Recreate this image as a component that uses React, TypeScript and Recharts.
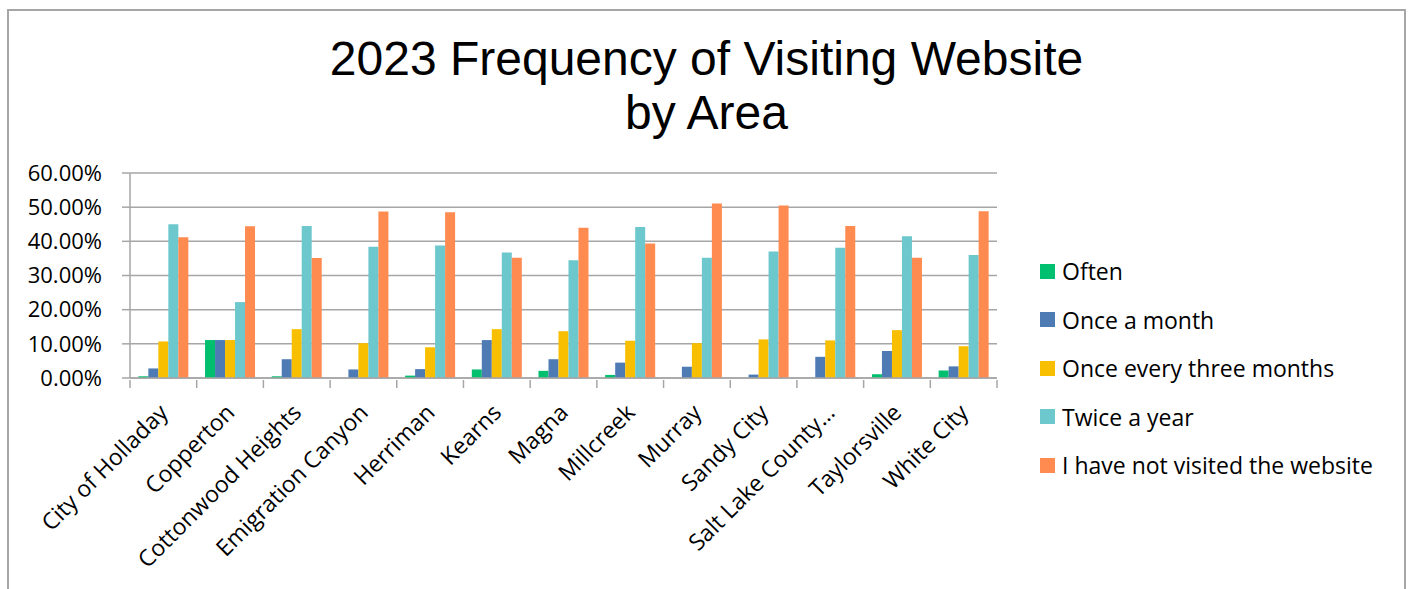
import React from 'react';
import { BarChart, Bar, XAxis, YAxis, CartesianGrid, Legend } from 'recharts';

// Areas along the x axis
const categories = [
  'City of Holladay',
  'Copperton',
  'Cottonwood Heights',
  'Emigration Canyon',
  'Herriman',
  'Kearns',
  'Magna',
  'Millcreek',
  'Murray',
  'Sandy City',
  'Salt Lake County…',
  'Taylorsville',
  'White City',
];

// Percent of respondents per area
const often = [0.5, 11.11, 0.5, 0, 0.7, 2.5, 2.1, 0.9, 0, 0, 0, 1.1, 2.2];
const onceAMonth = [2.8, 11.11, 5.5, 2.5, 2.6, 11.1, 5.5, 4.5, 3.3, 1.0, 6.2, 7.9, 3.4];
const onceEveryThreeMonths = [10.7, 11.11, 14.3, 10.2, 9.0, 14.3, 13.7, 10.9, 10.2, 11.3, 11.0, 14.0, 9.3];
const twiceAYear = [45.0, 22.22, 44.5, 38.4, 38.8, 36.7, 34.5, 44.2, 35.2, 37.0, 38.1, 41.5, 36.0];
const notVisited = [41.2, 44.44, 35.1, 48.7, 48.5, 35.2, 44.0, 39.4, 51.1, 50.5, 44.5, 35.2, 48.8];

const yTicks = [0, 10, 20, 30, 40, 50, 60];

const series = [
  { key: 'often', name: 'Often', color: '#00bf6f' },
  { key: 'month', name: 'Once a month', color: '#4f7bb5' },
  { key: 'three', name: 'Once every three months', color: '#f8bf00' },
  { key: 'twice', name: 'Twice a year', color: '#6cc8cc' },
  { key: 'never', name: 'I have not visited the website', color: '#ff8b50' },
];

const data = categories.map((area, i) => ({
  area,
  often: often[i],
  month: onceAMonth[i],
  three: onceEveryThreeMonths[i],
  twice: twiceAYear[i],
  never: notVisited[i],
}));

const W = 1413;
const H = 589;
const PLOT_LEFT = 130;
const PLOT_RIGHT = 997;
const BAND = (PLOT_RIGHT - PLOT_LEFT) / categories.length;
const AXIS_COLOR = '#a6a6a6';
const FONT = '"Open Sans", sans-serif';

function CategoryTick(props: any) {
  const { x, y, payload, index } = props;
  const half = BAND / 2;
  const tx = x + 6;
  const ty = y + 34;
  return (
    <g>
      <line x1={x - half} y1={y} x2={x - half} y2={y + 8} stroke={AXIS_COLOR} strokeWidth={1.5} />
      {index === categories.length - 1 && (
        <line x1={x + half} y1={y} x2={x + half} y2={y + 8} stroke={AXIS_COLOR} strokeWidth={1.5} />
      )}
      <text
        x={tx}
        y={ty}
        textAnchor="end"
        transform={`rotate(-45, ${tx}, ${ty})`}
        fontFamily={FONT}
        fontSize={23}
        fill="#000"
      >
        {payload.value}
      </text>
    </g>
  );
}

// keep the legend in series order (Recharts 3 sorts by name otherwise)
function LegendList(props: any) {
  const { payload = [] } = props;
  const items = series
    .map((s) => payload.find((p: any) => p.dataKey === s.key))
    .filter(Boolean);
  return (
    <div style={{ fontFamily: FONT, fontSize: 23, color: '#000' }}>
      {items.map((item: any) => (
        <div key={item.value} style={{ display: 'flex', alignItems: 'center', height: 48.5 }}>
          <span style={{ width: 15, height: 15, background: item.color, marginRight: 7 }} />
          <span>{item.value}</span>
        </div>
      ))}
    </div>
  );
}

export default function App() {
  return (
    <div style={{ position: 'absolute', left: 0, top: 0, width: W, height: H, background: '#fff', overflow: 'hidden' }}>
      <div
        style={{
          position: 'absolute',
          left: 7,
          top: 9,
          width: 1399,
          height: H - 9,
          boxSizing: 'border-box',
          border: `2px solid ${AXIS_COLOR}`,
          borderBottom: 'none',
        }}
      />
      <div
        style={{
          position: 'absolute',
          left: 0,
          top: 32,
          width: W,
          textAlign: 'center',
          fontFamily: '"Liberation Sans", Arial, sans-serif',
          fontSize: 48,
          lineHeight: '54px',
          color: '#000',
        }}
      >
        2023 Frequency of Visiting Website
        <br />
        by Area
      </div>
      <div style={{ position: 'absolute', left: 0, top: 0 }}>
        <BarChart
          width={W}
          height={H}
          data={data}
          margin={{ top: 173, right: W - PLOT_RIGHT, bottom: 0, left: 0 }}
          barCategoryGap="12.5%"
          barGap={0}
        >
          <CartesianGrid vertical={false} stroke={AXIS_COLOR} strokeWidth={1.5} />
          <XAxis
            dataKey="area"
            interval={0}
            height={H - 378}
            tickSize={0}
            tickLine={false}
            axisLine={{ stroke: AXIS_COLOR, strokeWidth: 1.5 }}
            tick={<CategoryTick />}
          />
          <YAxis
            width={PLOT_LEFT}
            domain={[0, 60]}
            ticks={yTicks}
            tickFormatter={(v: number) => `${v.toFixed(2)}%`}
            tickSize={8}
            tickMargin={20}
            tickLine={{ stroke: AXIS_COLOR, strokeWidth: 1.5 }}
            axisLine={{ stroke: AXIS_COLOR, strokeWidth: 1.5 }}
            tick={{ fontFamily: FONT, fontSize: 22, fill: '#000' }}
          />
          <Legend
            layout="vertical"
            align="center"
            verticalAlign="middle"
            content={<LegendList />}
            wrapperStyle={{ left: 1040, top: 247, width: 370 }}
          />
          {series.map((s) => (
            <Bar key={s.key} dataKey={s.key} name={s.name} fill={s.color} isAnimationActive={false} />
          ))}
        </BarChart>
      </div>
    </div>
  );
}
